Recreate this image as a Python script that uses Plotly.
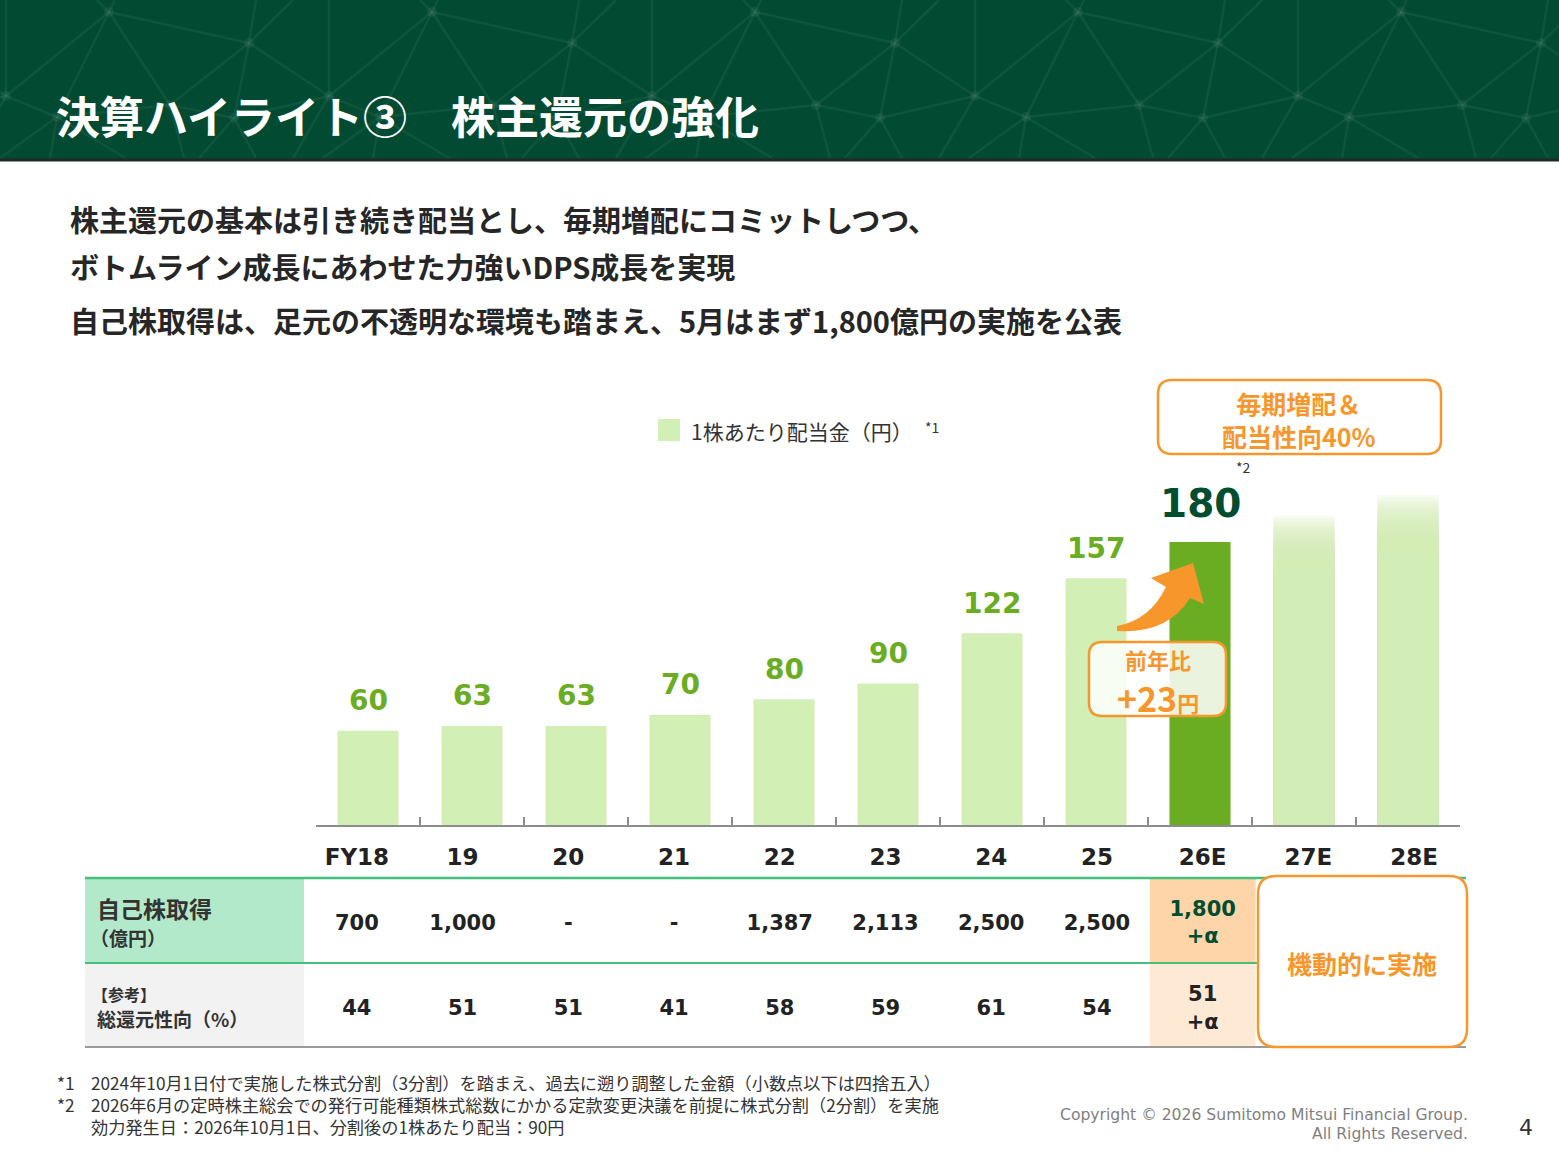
import plotly.graph_objects as go

W, H = 1559, 1162
JP = "Noto Sans CJK JP"
NUM = "DejaVu Sans"

# ---------------- data ----------------
categories = ["FY18", "19", "20", "21", "22", "23", "24", "25", "26E", "27E", "28E"]
dps = [60, 63, 63, 70, 80, 90, 122, 157, 180, 197, 210]  # 27E/28E: illustrative bar heights
dps_labels = ["60", "63", "63", "70", "80", "90", "122", "157", "180", "", ""]
buyback = ["700", "1,000", "-", "-", "1,387", "2,113", "2,500", "2,500"]
buyback_26e = "1,800<br>+α"
payout = ["44", "51", "51", "41", "58", "59", "61", "54"]
payout_26e = "51<br>+α"

LIGHT = "#D2EFB5"
DARK = "#6AAD23"
LABEL_GREEN = "#6AAD23"
DEEP = "#004D32"
ORANGE = "#F7962B"
TXT = "#262626"


def X(p):
    return p / W


def Y(p):
    return 1 - p / H


shapes = []
annotations = []


def text(x, y, s, size, color, family=JP, xanchor="left", yanchor="middle"):
    annotations.append(dict(x=X(x), y=Y(y), xref="paper", yref="paper", text=s,
                            showarrow=False, xanchor=xanchor, yanchor=yanchor,
                            font=dict(size=size, color=color, family=family)))


def rect(x0, y0, x1, y1, fill, layer="below", line=None):
    shapes.append(dict(type="rect", xref="paper", yref="paper", x0=X(x0), x1=X(x1),
                       y0=Y(y1), y1=Y(y0), fillcolor=fill, layer=layer,
                       line=line or dict(width=0)))


def path_str(cmds):
    out = ""
    for p in cmds:
        cmd = p[0]
        coords = p[1:]
        seg = []
        for i in range(0, len(coords), 2):
            seg.append(f"{X(coords[i]):.5f},{Y(coords[i+1]):.5f}")
        out += cmd + " " + " ".join(seg) + " "
    return out + "Z"


def rrect_path(x0, y0, x1, y1, r):
    return path_str([("M", x0 + r, y0), ("L", x1 - r, y0), ("Q", x1, y0, x1, y0 + r),
                     ("L", x1, y1 - r), ("Q", x1, y1, x1 - r, y1), ("L", x0 + r, y1),
                     ("Q", x0, y1, x0, y1 - r), ("L", x0, y0 + r), ("Q", x0, y0, x0 + r, y0)])


# ---------------- header ----------------
rect(0, 0, W, 159, "#024B32")
mesh_col = "rgba(255,255,255,0.055)"
for a in [-214, 109, 432, 755, 1078, 1401]:
    A = (a, 12); C = (a + 140, 43); D = (a + 61, 105); E = (a + 125, 118)
    F = (a + 220, 96); G = (a + 271, 117); A2 = (a + 323, 12); D2 = (a + 384, 105)
    edges = [(A, C), (C, (a + 147, 0)), (C, (a + 184, 0)), (C, D), (C, E), (C, F),
             (F, (a + 220, 0)), (F, A2), (F, G), (F, E), (D, E), (D, A), (G, A2), (G, D2),
             (D, (a + 75, 158)), (E, (a + 90, 158)), (E, (a + 147, 158)), (F, (a + 184, 158)),
             (G, (a + 214, 158)), (G, (a + 264, 158)), (G, (a + 340, 158)),
             (A, (a - 12, 0)), (A, (a + 6, 0))]
    for p, q in edges:
        shapes.append(dict(type="line", xref="paper", yref="paper", x0=X(p[0]), y0=Y(p[1]),
                           x1=X(q[0]), y1=Y(q[1]), layer="below",
                           line=dict(color=mesh_col, width=2.5)))
    for v in [A, C, D, E, F, G]:
        shapes.append(dict(type="circle", xref="paper", yref="paper", x0=X(v[0] - 5),
                           x1=X(v[0] + 5), y0=Y(v[1] + 5), y1=Y(v[1] - 5), layer="below",
                           fillcolor=mesh_col, line=dict(width=0)))
rect(0, 158.5, W, 161.5, "#1D2B24")
text(54, 115, "<b>決算ハイライト③　株主還元の強化</b>", 44, "white")

# ---------------- subtitle ----------------
text(68, 219, "<b>株主還元の基本は引き続き配当とし、毎期増配にコミットしつつ、</b>", 29, TXT)
text(68, 266, "<b>ボトムライン成長にあわせた力強いDPS成長を実現</b>", 29, TXT)
text(68, 320, "<b>自己株取得は、足元の不透明な環境も踏まえ、5月はまず1,800億円の実施を公表</b>", 29, TXT)

# ---------------- legend ----------------
rect(658, 419, 680, 441, LIGHT)
text(689, 431, "1株あたり配当金（円）", 21, "#333333")
text(923, 427, "*1", 14, "#333333")

# ---------------- bars ----------------
fig = go.Figure()
fade_frac = 0.18
solid, colors = [], []
for c, v in zip(categories, dps):
    solid.append(v * (1 - fade_frac) if c in ("27E", "28E") else v)
    colors.append(DARK if c == "26E" else LIGHT)

fig.add_trace(go.Bar(x=categories, y=solid, marker=dict(color=colors, line=dict(width=0)),
                     xaxis="x", yaxis="y", showlegend=False, hoverinfo="skip"))

# fading tops of the forecast bars: overlapping translucent layers
fade_cats = [c for c in categories if c in ("27E", "28E")]
fade_vals = [v for c, v in zip(categories, dps) if c in ("27E", "28E")]
N = 20
alpha = 0.16
for i in range(N):
    tops = [v * (1 - fade_frac) + v * fade_frac * (i + 1) / N for v in fade_vals]
    fig.add_trace(go.Bar(x=fade_cats, y=tops,
                         marker=dict(color=f"rgba(210,239,181,{alpha})", line=dict(width=0)),
                         xaxis="x", yaxis="y", showlegend=False, hoverinfo="skip"))

for i, (c, v, lab) in enumerate(zip(categories, dps, dps_labels)):
    if not lab:
        continue
    big = c == "26E"
    annotations.append(dict(x=i, y=v, xref="x", yref="y", text=f"<b>{lab}</b>", showarrow=False,
                            yshift=39 if big else 30, yanchor="middle",
                            font=dict(size=39 if big else 28, color=DEEP if big else LABEL_GREEN,
                                      family=NUM)))
text(1243, 467, "*2", 14, "#333333", xanchor="center")

# orange target box
shapes.append(dict(type="path", xref="paper", yref="paper", path=rrect_path(1158, 380, 1441, 454, 14),
                   fillcolor="white", line=dict(color=ORANGE, width=2.5), layer="above"))
text(1299, 419, "<b>毎期増配＆<br>配当性向40%</b>", 25, ORANGE, xanchor="center")

# curved arrow
shapes.append(dict(type="path", xref="paper", yref="paper", layer="above",
                   path=path_str([("M", 1117, 626), ("Q", 1150, 620, 1166, 587), ("L", 1151, 578),
                                  ("L", 1193, 563), ("L", 1204, 604), ("L", 1190, 598),
                                  ("Q", 1168, 634, 1117, 631)]),
                   fillcolor=ORANGE, line=dict(width=0)))

# YoY box
shapes.append(dict(type="path", xref="paper", yref="paper", path=rrect_path(1089, 642, 1226, 716, 13),
                   fillcolor="rgba(255,255,255,0.85)", line=dict(color=ORANGE, width=2.5), layer="above"))
text(1158, 659, "<b>前年比</b>", 22, ORANGE, xanchor="center")
text(1158, 697, "<b>+23<span style='font-size:22px'>円</span></b>", 34, ORANGE, xanchor="center")

# ---------------- table ----------------
rect(85, 879, 304, 962, "#B3E9CB")
rect(85, 964, 304, 1046, "#F2F2F2")
shapes.append(dict(type="rect", xref="x2", yref="y2", x0=7.5, x1=8.5, y0=1, y1=2,
                   fillcolor="#FDD5A8", line=dict(width=0), layer="below"))
shapes.append(dict(type="rect", xref="x2", yref="y2", x0=7.5, x1=8.5, y0=0, y1=1,
                   fillcolor="#FEE9D5", line=dict(width=0), layer="below"))
shapes.append(dict(type="line", xref="paper", yref="paper", x0=X(85), x1=X(1466), y0=Y(878), y1=Y(878),
                   line=dict(color="#45C07C", width=2.5), layer="above"))
shapes.append(dict(type="line", xref="paper", yref="paper", x0=X(85), x1=X(1258), y0=Y(963), y1=Y(963),
                   line=dict(color="#45C07C", width=2), layer="above"))
shapes.append(dict(type="line", xref="paper", yref="paper", x0=X(85), x1=X(1466), y0=Y(1047), y1=Y(1047),
                   line=dict(color="#9A9A9A", width=2), layer="above"))
shapes.append(dict(type="path", xref="paper", yref="paper", path=rrect_path(1258, 876, 1467, 1047, 18),
                   fillcolor="white", line=dict(color=ORANGE, width=2.5), layer="above"))
text(1362, 963, "<b>機動的に実施</b>", 25, ORANGE, xanchor="center")

text(95, 908, "<b>自己株取得</b>", 23, "#333333")
text(88, 937, "<b>（億円）</b>", 19, "#333333")
text(90, 994, "<b>【参考】</b>", 16, "#333333")
text(95, 1018, "<b>総還元性向（%）</b>", 19, "#333333")

ROW1, ROW2 = 1.45, 0.44
fig.add_trace(go.Scatter(x=categories[:len(buyback)], y=[ROW1] * len(buyback), mode="text",
                         text=[f"<b>{t}</b>" for t in buyback], xaxis="x2", yaxis="y2",
                         textfont=dict(size=21, color="#222222", family=NUM),
                         showlegend=False, hoverinfo="skip", cliponaxis=False))
fig.add_trace(go.Scatter(x=categories[:len(payout)], y=[ROW2] * len(payout), mode="text",
                         text=[f"<b>{t}</b>" for t in payout], xaxis="x2", yaxis="y2",
                         textfont=dict(size=21, color="#222222", family=NUM),
                         showlegend=False, hoverinfo="skip", cliponaxis=False))
fig.add_trace(go.Scatter(x=["26E"], y=[ROW1], mode="text", text=[f"<b>{buyback_26e}</b>"],
                         xaxis="x2", yaxis="y2", textfont=dict(size=21, color=DEEP, family=NUM),
                         showlegend=False, hoverinfo="skip", cliponaxis=False))
fig.add_trace(go.Scatter(x=["26E"], y=[ROW2], mode="text", text=[f"<b>{payout_26e}</b>"],
                         xaxis="x2", yaxis="y2", textfont=dict(size=21, color="#222222", family=NUM),
                         showlegend=False, hoverinfo="skip", cliponaxis=False))

# ---------------- footnotes ----------------
FN = 17.2
text(55, 1082, "*1", FN, "#333333")
text(89, 1082, "2024年10月1日付で実施した株式分割（3分割）を踏まえ、過去に遡り調整した金額（小数点以下は四捨五入）", FN, "#333333")
text(55, 1104, "*2", FN, "#333333")
text(89, 1104, "2026年6月の定時株主総会での発行可能種類株式総数にかかる定款変更決議を前提に株式分割（2分割）を実施", FN, "#333333")
text(89, 1126, "効力発生日：2026年10月1日、分割後の1株あたり配当：90円", FN, "#333333")
text(1470, 1115, "Copyright © 2026 Sumitomo Mitsui Financial Group.", 15.6, "#7F7F7F", family=NUM, xanchor="right")
text(1470, 1134, "All Rights Reserved.", 15.6, "#7F7F7F", family=NUM, xanchor="right")
text(1526, 1127, "4", 22, "#333333", family=NUM, xanchor="center")

# ---------------- layout ----------------
ytop = 470
px_per_unit = 1.572
fig.update_layout(
    width=W, height=H, margin=dict(l=0, r=0, t=0, b=0),
    paper_bgcolor="white", plot_bgcolor="rgba(0,0,0,0)",
    barmode="overlay", bargap=0.413,
    shapes=shapes, annotations=annotations, showlegend=False,
    xaxis=dict(domain=[X(316), X(1460)], type="category", categoryorder="array",
               categoryarray=categories, range=[-0.5, len(categories) - 0.5],
               tickson="boundaries", ticks="inside", ticklen=8, tickwidth=1.5, tickcolor="#8C8C8C",
               showline=True, linecolor="#8C8C8C", linewidth=1.5, showticklabels=False,
               showgrid=False, zeroline=False, anchor="y", fixedrange=True),
    yaxis=dict(domain=[Y(825), Y(ytop)], range=[0, (825 - ytop) / px_per_unit], visible=False,
               anchor="x", fixedrange=True),
    xaxis2=dict(domain=[X(304), X(1467)], type="category", categoryorder="array",
                categoryarray=categories, range=[-0.5, len(categories) - 0.5], anchor="y2",
                side="top", showline=False, showgrid=False, zeroline=False, ticks="",
                ticklabelstandoff=7,
                tickfont=dict(size=23, color="#222222", family=NUM, weight="bold"), fixedrange=True),
    yaxis2=dict(domain=[Y(1047), Y(878)], range=[0, 2], visible=False, anchor="x2", fixedrange=True),
)

fig.write_html("out.html")
